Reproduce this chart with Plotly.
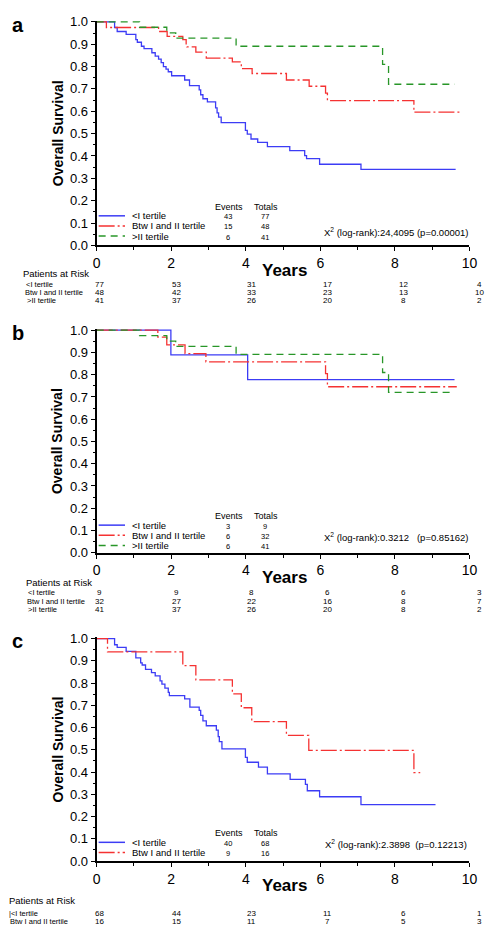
import plotly.graph_objects as go

W, H = 495, 938
FONT = "Liberation Sans, Arial, sans-serif"
BLUE = "rgb(60,60,245)"
RED = "rgb(245,50,50)"
GREEN = "rgb(40,150,40)"
RED_DASH = "16px,3px,2px,3px"
GREEN_DASH = "7px,5px"

# ---------------- data ----------------
# Panel a
a_lt_t = [0, 0.48, 0.55, 0.79, 1.05, 1.09, 1.20, 1.27, 1.48, 1.57, 1.66, 1.73, 1.79, 1.86, 1.92, 2.01,
          2.36, 2.49, 2.75, 2.79, 2.85, 2.97, 3.19, 3.23, 3.27, 3.34, 3.99, 4.04, 4.14, 4.32, 4.58,
          5.18, 5.58, 5.63, 5.98, 7.09, 9.63]
a_lt_s = [1.0, 0.975, 0.957, 0.944, 0.921, 0.909, 0.891, 0.880, 0.862, 0.847, 0.833, 0.818, 0.800,
          0.789, 0.777, 0.759, 0.740, 0.715, 0.696, 0.674, 0.656, 0.642, 0.615, 0.593, 0.574, 0.549,
          0.515, 0.498, 0.476, 0.461, 0.442, 0.424, 0.402, 0.388, 0.363, 0.340, 0.340]
a_btw_t = [0, 0.26, 1.66, 1.89, 2.31, 2.40, 2.42, 2.66, 2.94, 3.64, 3.88, 4.17, 5.09, 5.70, 6.14, 6.19, 8.51, 9.77]
a_btw_s = [1.0, 0.975, 0.957, 0.935, 0.921, 0.902, 0.888, 0.865, 0.838, 0.821, 0.791, 0.769, 0.740,
           0.712, 0.681, 0.648, 0.596, 0.596]
gt_t = [0, 1.15, 1.88, 2.12, 3.74, 7.67, 7.83, 9.6]
gt_s = [1.0, 0.976, 0.951, 0.927, 0.891, 0.810, 0.721, 0.721]

# Panel b
b_lt_t = [0, 1.99, 4.05, 9.6]
b_lt_s = [1.0, 0.889, 0.778, 0.778]
b_btw_t = [0, 1.64, 1.88, 2.37, 2.93, 6.14, 6.19, 9.66]
b_btw_s = [1.0, 0.969, 0.934, 0.895, 0.858, 0.805, 0.746, 0.746]

# Panel c
c_lt_t = [0, 0.48, 0.55, 0.79, 1.05, 1.18, 1.22, 1.31, 1.47, 1.57, 1.70, 1.75, 1.83, 1.92, 1.95,
          2.36, 2.50, 2.75, 2.79, 2.85, 2.94, 3.21, 3.26, 3.29, 3.36, 3.99, 4.04, 4.34, 4.58,
          5.19, 5.60, 5.65, 5.98, 7.09, 9.09]
c_lt_s = [1.0, 0.972, 0.960, 0.942, 0.913, 0.891, 0.881, 0.861, 0.847, 0.832, 0.810, 0.795, 0.777,
          0.758, 0.743, 0.729, 0.692, 0.677, 0.655, 0.630, 0.608, 0.588, 0.559, 0.537, 0.504, 0.466,
          0.444, 0.422, 0.392, 0.367, 0.345, 0.316, 0.289, 0.254, 0.254]
c_btw_t = [0, 0.29, 2.31, 2.66, 3.64, 3.88, 4.16, 5.09, 5.69, 8.51, 8.68]
c_btw_s = [1.0, 0.94, 0.878, 0.814, 0.751, 0.689, 0.627, 0.565, 0.497, 0.397, 0.397]

group_names = ["<I tertile", "Btw I and II tertile", ">II tertile"]
risk_years = [0, 2, 4, 6, 8, 10]
a_risk = [[77, 53, 31, 17, 12, 4], [48, 42, 33, 23, 13, 10], [41, 37, 26, 20, 8, 2]]
b_risk = [[9, 9, 8, 6, 6, 3], [32, 27, 22, 16, 8, 7], [41, 37, 26, 20, 8, 2]]
c_risk = [[68, 44, 23, 11, 6, 1], [16, 15, 11, 7, 5, 3]]
a_events, a_totals = [43, 15, 6], [77, 48, 41]
b_events, b_totals = [3, 6, 6], [9, 32, 41]
c_events, c_totals = [40, 9], [68, 16]
a_stat = "X<sup>2</sup> (log-rank):24,4095 (p=0.00001)"
b_stat = "X<sup>2</sup> (log-rank):0.3212   (p=0.85162)"
c_stat = "X<sup>2</sup> (log-rank):2.3898  (p=0.12213)"

# ---------------- layout helpers ----------------
panels = [
    dict(letter="a", top=16, bottom=243, leg_y0=213, stat_y=229, hdr_y=272, hdr_x=17, row_dy=[10.5, 18.5, 27],
         series=[(a_lt_t, a_lt_s, BLUE, "solid"), (a_btw_t, a_btw_s, RED, RED_DASH), (gt_t, gt_s, GREEN, GREEN_DASH)],
         risk=a_risk, ev=a_events, tot=a_totals, stat=a_stat,
         labels=["<I tertile", "Btw I and II tertile", ">II tertile"], lab_x=[20, 19, 22]),
    dict(letter="b", top=329, bottom=555, leg_y0=527, stat_y=539, hdr_y=585.5, hdr_x=20, row_dy=[10, 18.7, 27.5],
         series=[(b_lt_t, b_lt_s, BLUE, "solid"), (b_btw_t, b_btw_s, RED, RED_DASH), (gt_t, gt_s, GREEN, GREEN_DASH)],
         risk=b_risk, ev=b_events, tot=b_totals, stat=b_stat,
         labels=["<I tertile", "Btw I and II tertile", ">II tertile"], lab_x=[23, 22, 23]),
    dict(letter="c", top=642, bottom=868, leg_y0=849, stat_y=851, hdr_y=908, hdr_x=3, row_dy=[13.5, 21],
         series=[(c_lt_t, c_lt_s, BLUE, "solid"), (c_btw_t, c_btw_s, RED, RED_DASH)],
         risk=c_risk, ev=c_events, tot=c_totals, stat=c_stat,
         labels=["|<I tertile", "Btw I and II tertile"], lab_x=[3, 4]),
]

X0, X1 = 95, 477
fig = go.Figure()
annotations = []
shapes = []


def px(x):
    return x / W


def py(y):
    return 1 - y / H


def ann(text, x, y, size, bold=False, xanchor="left", angle=0):
    t = f"<b>{text}</b>" if bold else text
    return dict(text=t, x=px(x), y=py(y), xref="paper", yref="paper", showarrow=False,
                xanchor=xanchor, yanchor="middle", textangle=angle,
                font=dict(size=size, family=FONT, color="black"))


layout_axes = {}
for i, p in enumerate(panels):
    n = "" if i == 0 else str(i + 1)
    xa, ya = "x" + n, "y" + n
    for (t, s, col, dash) in p["series"]:
        fig.add_trace(go.Scatter(x=t, y=s, mode="lines", line=dict(color=col, width=1.3, dash=dash, shape="hv"),
                                 xaxis=xa, yaxis=ya, showlegend=False, hoverinfo="skip"))
    layout_axes["xaxis" + n] = dict(
        domain=[px(X0), px(X1)], anchor=ya, range=[0, 10], tickvals=[0, 2, 4, 6, 8, 10],
        ticks="outside", ticklen=4, tickwidth=1.2, tickcolor="black",
        minor=dict(tickvals=[1, 3, 5, 7, 9], ticks="outside", ticklen=3, tickcolor="black"),
        showline=True, linecolor="black", linewidth=1.6, showgrid=False, zeroline=False,
        tickfont=dict(size=14, family=FONT, color="black"))
    layout_axes["yaxis" + n] = dict(
        domain=[py(p["bottom"]), py(p["top"] - 1)], anchor=xa, range=[0, 1.005],
        tickvals=[round(k * 0.1, 1) for k in range(11)], tickformat=".1f",
        ticks="outside", ticklen=4, tickwidth=1.2, tickcolor="black",
        minor=dict(dtick=0.05, tick0=0, ticks="outside", ticklen=2, tickcolor="black"),
        showline=True, linecolor="black", linewidth=2, showgrid=False, zeroline=False,
        tickfont=dict(size=13, family=FONT, color="black"))

    top, bot = p["top"], p["bottom"]
    annotations.append(ann(p["letter"], 6, top + 3, 20, bold=True))
    annotations.append(ann("Overall Survival", 55, (top + bot) / 2, 14, bold=True, xanchor="center", angle=-90))
    annotations.append(ann("Years", 287, bot + 25, 17, bold=True, xanchor="center"))

    # legend block
    leg_y0 = p["leg_y0"]
    cols = [BLUE, RED, GREEN]
    dashes = ["solid", RED_DASH, GREEN_DASH]
    for k in range(len(p["series"])):
        yk = leg_y0 + k * 10.3
        shapes.append(dict(type="line", xref="paper", yref="paper", x0=px(97), x1=px(124), y0=py(yk), y1=py(yk),
                           line=dict(color=cols[k], width=1.5, dash=dashes[k])))
        annotations.append(ann(group_names[k], 129, yk, 9.5))
        annotations.append(ann(str(p["ev"][k]), 230, yk + 1, 7.5, xanchor="center"))
        annotations.append(ann(str(p["tot"][k]), 267, yk + 1, 7.5, xanchor="center"))
    annotations.append(ann("Events", 231, leg_y0 - 9, 9, xanchor="center"))
    annotations.append(ann("Totals", 268, leg_y0 - 9, 9, xanchor="center"))
    annotations.append(ann(p["stat"], 402, p["stat_y"], 9.5, xanchor="center"))

    # patients at risk
    hdr_y = p["hdr_y"]
    annotations.append(ann("Patients at Risk", p["hdr_x"], hdr_y, 9.5))
    shifts = [3, 5, 6, 7, 9, 10]
    for r, row in enumerate(p["risk"]):
        ry = hdr_y + p["row_dy"][r]
        annotations.append(ann(p["labels"][r], p["lab_x"][r], ry, 7.5))
        for j, (yr, v) in enumerate(zip(risk_years, row)):
            xpix = X0 + (X1 - X0) * yr / 10 + shifts[j]
            annotations.append(ann(str(v), xpix, ry, 8, xanchor="center"))

fig.update_layout(width=W, height=H, margin=dict(l=0, r=0, t=0, b=0),
                  paper_bgcolor="white", plot_bgcolor="white",
                  annotations=annotations, shapes=shapes, showlegend=False, **layout_axes)
fig.write_html("out.html", config={"displayModeBar": False},
               post_script="document.body.style.margin='0px';document.body.style.overflow='hidden';")
